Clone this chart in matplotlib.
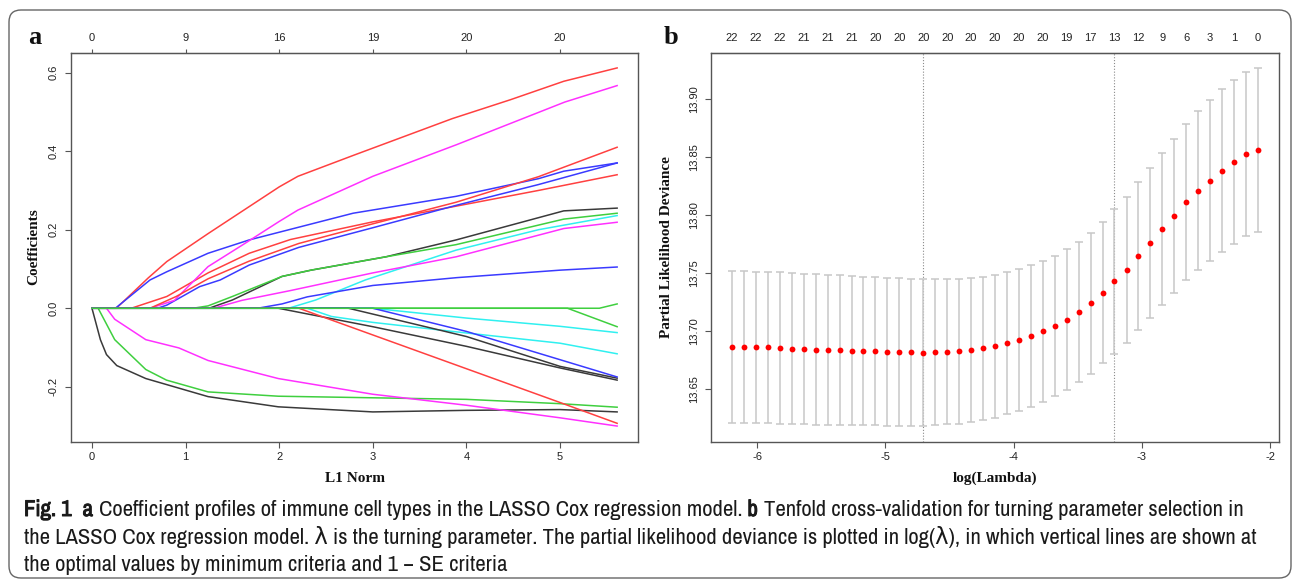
import numpy as np
import matplotlib
matplotlib.use("Agg")
import matplotlib.pyplot as plt
import matplotlib.patheffects as pe
from matplotlib.patches import FancyBboxPatch
from matplotlib import font_manager

# ---------------- data: panel a (coefficient paths vs L1 norm) ----------------
l1_ticks = [0, 1, 2, 3, 4, 5]
df_labels = ["0", "9", "16", "19", "20", "20"]

K4_x = [0, 0.09, 0.155, 0.265, 0.575, 1.24, 1.99, 3.0, 4.0, 5.0, 5.61]
K4_y = [0, -0.080, -0.118, -0.146, -0.179, -0.225, -0.251, -0.264, -0.260, -0.258, -0.264]
R1_x = [0, 0.26, 0.6, 0.8, 1.24, 2.0, 2.2, 2.8, 3.85, 4.47, 5.04, 5.61]
R1_y = [0, 0, 0.077, 0.119, 0.19, 0.309, 0.336, 0.39, 0.483, 0.531, 0.578, 0.612]
G4_x = [0, 0.066, 0.243, 0.575, 0.796, 1.24, 1.99, 4.0, 5.0, 5.61]
G4_y = [0, 0, -0.080, -0.156, -0.183, -0.213, -0.224, -0.232, -0.243, -0.252]
B1_x = [0, 0.25, 0.62, 0.8, 1.24, 1.68, 2.79, 3.89, 4.77, 5.04, 5.61]
B1_y = [0, 0, 0.072, 0.093, 0.14, 0.174, 0.242, 0.285, 0.330, 0.349, 0.370]
C1_x = [0, 2.1, 2.39, 2.92, 3.89, 4.77, 5.61]
C1_y = [0, 0, 0.021, 0.072, 0.148, 0.2, 0.236]
M3_x = [0, 0.155, 0.243, 0.575, 0.928, 1.24, 1.99, 3.0, 4.0, 5.0, 5.61]
M3_y = [0, 0, -0.028, -0.080, -0.101, -0.133, -0.179, -0.219, -0.247, -0.279, -0.300]
K1_x = [0, 1.25, 1.5, 2.03, 2.34, 3.14, 3.89, 5.04, 5.61]
K1_y = [0, 0, 0.021, 0.081, 0.097, 0.131, 0.174, 0.248, 0.255]
R2_x = [0, 0.42, 0.8, 1.24, 1.68, 2.12, 3.0, 3.89, 4.77, 5.61]
R2_y = [0, 0, 0.03, 0.09, 0.14, 0.175, 0.22, 0.26, 0.30, 0.340]
G1_x = [0, 1.08, 1.24, 1.5, 2.03, 2.34, 3.14, 3.89, 5.04, 5.61]
G1_y = [0, 0, 0.006, 0.03, 0.081, 0.097, 0.131, 0.162, 0.227, 0.242]
B2_x = [0, 0.7, 0.8, 1.15, 1.37, 1.68, 2.21, 3.0, 3.89, 4.77, 5.61]
B2_y = [0, 0, 0.008, 0.055, 0.072, 0.11, 0.155, 0.205, 0.262, 0.315, 0.370]
C2_x = [0, 3.0, 4.0, 5.0, 5.61]
C2_y = [0, 0, -0.025, -0.046, -0.062]
M1_x = [0, 0.62, 0.88, 1.24, 1.64, 2.0, 2.2, 3.0, 3.9, 5.05, 5.61]
M1_y = [0, 0, 0.02, 0.106, 0.166, 0.221, 0.25, 0.336, 0.417, 0.525, 0.567]
K2_x = [0, 1.99, 3.0, 4.0, 5.0, 5.61]
K2_y = [0, 0, -0.047, -0.097, -0.152, -0.183]
R3_x = [0, 0.62, 0.9, 1.24, 1.68, 2.21, 3.0, 3.89, 4.77, 5.61]
R3_y = [0, 0, 0.03, 0.075, 0.12, 0.165, 0.215, 0.27, 0.335, 0.41]
G3_x = [0, 5.08, 5.61]
G3_y = [0, 0, -0.047]
B3_x = [0, 1.77, 2.03, 2.3, 3.0, 3.9, 5.0, 5.61]
B3_y = [0, 0, 0.011, 0.029, 0.058, 0.078, 0.097, 0.105]
C3_x = [0, 2.3, 2.56, 3.0, 4.0, 5.0, 5.61]
C3_y = [0, 0, -0.021, -0.036, -0.063, -0.089, -0.116]
M2_x = [0, 1.3, 1.6, 2.12, 3.0, 3.89, 5.04, 5.61]
M2_y = [0, 0, 0.02, 0.045, 0.09, 0.131, 0.203, 0.219]
K3_x = [0, 2.74, 4.0, 5.0, 5.61]
K3_y = [0, 0, -0.072, -0.148, -0.178]
R4_x = [0, 2.21, 3.0, 4.0, 5.0, 5.61]
R4_y = [0, 0, -0.068, -0.154, -0.240, -0.293]
B4_x = [0, 3.0, 4.0, 5.0, 5.61]
B4_y = [0, 0, -0.059, -0.131, -0.175]
G2_x = [0, 5.42, 5.61]
G2_y = [0, 0, 0.011]

# ---------------- data: panel b (cross-validation curve) ----------------
log_lambda = [-6.195, -6.102, -6.009, -5.915, -5.822, -5.729, -5.636, -5.543, -5.449,
              -5.356, -5.263, -5.170, -5.077, -4.983, -4.890, -4.797, -4.704, -4.611,
              -4.517, -4.424, -4.331, -4.238, -4.145, -4.051, -3.958, -3.865, -3.772,
              -3.679, -3.585, -3.492, -3.399, -3.306, -3.213, -3.119, -3.026, -2.933,
              -2.840, -2.747, -2.653, -2.560, -2.467, -2.374, -2.281, -2.187, -2.094]
cv_mean = [13.6862, 13.6862, 13.6856, 13.6856, 13.6851, 13.6845, 13.6842, 13.6836, 13.6833,
           13.6830, 13.6828, 13.6825, 13.6822, 13.6816, 13.6813, 13.6813, 13.6812, 13.6816,
           13.6819, 13.6822, 13.6833, 13.6847, 13.6868, 13.6894, 13.6922, 13.6954, 13.6994,
           13.7043, 13.7097, 13.7161, 13.7239, 13.7330, 13.7426, 13.7526, 13.7644, 13.7761,
           13.7879, 13.7991, 13.8109, 13.8209, 13.8296, 13.8382, 13.8457, 13.8528, 13.8560]
cv_se = [0.0658, 0.0655, 0.0655, 0.0650, 0.0652, 0.0652, 0.0649, 0.0652, 0.0650,
         0.0647, 0.0643, 0.0641, 0.0638, 0.0638, 0.0638, 0.0635, 0.0633, 0.0629,
         0.0626, 0.0626, 0.0621, 0.0621, 0.0617, 0.0615, 0.0612, 0.0612, 0.0609,
         0.0606, 0.0607, 0.0606, 0.0608, 0.0612, 0.0623, 0.0632, 0.0638, 0.0647,
         0.0658, 0.0667, 0.0675, 0.0688, 0.0695, 0.0702, 0.0707, 0.0707, 0.0710]
nz_labels = ["22", "22", "22", "21", "21", "21", "20", "20", "20", "20", "20", "20",
             "20", "20", "19", "17", "13", "12", "9", "6", "3", "1", "0"]
log_lambda_min = -4.704
log_lambda_1se = -3.213
dev_ticks = [13.65, 13.70, 13.75, 13.80, 13.85, 13.90]
loglam_ticks = [-6, -5, -4, -3, -2]

# ---------------- caption ----------------
cap_line1 = [("Fig. 1", "bold"), ("a", "bold"),
             ("Coefficient profiles of immune cell types in the LASSO Cox regression model.", "normal"),
             ("b", "bold"),
             ("Tenfold cross-validation for turning parameter selection in", "normal")]
cap_line2 = "the LASSO Cox regression model. \u03bb is the turning parameter. The partial likelihood deviance is plotted in log(\u03bb), in which vertical lines are shown at"
cap_line3 = "the optimal values by minimum criteria and 1 \u2212 SE criteria"

# ---------------- font selection ----------------
def find_condensed():
    prefs = []
    for f in font_manager.fontManager.ttflist:
        nm = f.name
        if 'Mono' in nm or 'Serif' in nm or 'CJK' in nm:
            continue
        st = str(f.stretch)
        if 'Narrow' in nm or 'Condensed' in nm:
            prefs.append((0, nm, 'normal'))
        elif st in ('condensed', 'semi-condensed'):
            prefs.append((1, nm, st))
    prefs.sort()
    return prefs[0] if prefs else None

cond = find_condensed()
if cond is not None:
    cond_family, cond_stretch = cond[1], cond[2]
else:
    cond_family, cond_stretch = 'Liberation Sans', 'normal'

def has_bold(family):
    for f in font_manager.fontManager.ttflist:
        if f.name == family:
            w = f.weight
            try:
                w = int(w)
            except (TypeError, ValueError):
                w = 700 if str(w).lower() in ('bold', 'heavy', 'black', 'extra bold', 'semibold', 'demibold') else 400
            if w >= 600:
                return True
    return False

cond_has_bold = has_bold(cond_family)
serif = 'Liberation Serif'

W, H = 1293, 580
fig = plt.figure(figsize=(W / 100, H / 100), dpi=100)
fig.patch.set_facecolor('white')

def rect(l, t, r, b):
    return [l / W, 1 - b / H, (r - l) / W, (b - t) / H]

def fx(x):
    return x / W

def fy(y):
    return 1 - y / H

SPINE = '#555555'
TICKFS = 8.0
tick_family = 'Liberation Sans'

def style_axes(ax):
    for s in ax.spines.values():
        s.set_color(SPINE)
        s.set_linewidth(1.0)
    ax.tick_params(axis='both', direction='out', length=4.3, width=0.8, color=SPINE,
                   labelsize=TICKFS, labelcolor='#222222')
    ax.tick_params(axis='x', pad=2.8)
    ax.tick_params(axis='y', pad=4.5)
    for lab in ax.get_yticklabels():
        lab.set_rotation(90)
        lab.set_va('center')
        lab.set_family(tick_family)
    for lab in ax.get_xticklabels():
        lab.set_family(tick_family)

# ---------------- panel a ----------------
axA = fig.add_axes(rect(71, 53, 638, 442))
paths = [
    (K4_x, K4_y, 'black'), (R1_x, R1_y, 'red'), (G4_x, G4_y, 'green'), (B1_x, B1_y, 'blue'),
    (C1_x, C1_y, 'cyan'), (M3_x, M3_y, 'magenta'), (K1_x, K1_y, 'black'), (R2_x, R2_y, 'red'),
    (G1_x, G1_y, 'green'), (B2_x, B2_y, 'blue'), (C2_x, C2_y, 'cyan'), (M1_x, M1_y, 'magenta'),
    (K2_x, K2_y, 'black'), (R3_x, R3_y, 'red'), (G3_x, G3_y, 'green'), (B3_x, B3_y, 'blue'),
    (C3_x, C3_y, 'cyan'), (M2_x, M2_y, 'magenta'), (K3_x, K3_y, 'black'), (R4_x, R4_y, 'red'),
    (B4_x, B4_y, 'blue'), (G2_x, G2_y, 'green'),
]
colmap = {'black': '#3a3a3a', 'red': '#ff4040', 'green': '#3fcf3f', 'blue': '#3a3aff',
          'cyan': '#30f0f0', 'magenta': '#ff30ff'}
for xs, ys, c in paths:
    axA.plot(xs, ys, color=colmap[c], lw=1.1, solid_joinstyle='round')
axA.set_xlim(-0.224, 5.833)
axA.set_ylim(-0.3406, 0.650)
axA.set_xticks(l1_ticks)
axA.set_xticklabels([str(v) for v in l1_ticks])
axA.set_yticks([-0.2, 0.0, 0.2, 0.4, 0.6])
axA.set_yticklabels(["-0.2", "0.0", "0.2", "0.4", "0.6"])
style_axes(axA)
secA = axA.secondary_xaxis('top')
secA.set_xticks(l1_ticks)
secA.set_xticklabels(df_labels)
secA.spines['top'].set_color(SPINE)
secA.tick_params(direction='out', length=3.0, width=0.8, color=SPINE, labelsize=TICKFS,
                 labelcolor='#222222', pad=4.5)
for lab in secA.get_xticklabels():
    lab.set_family(tick_family)

# ---------------- panel b ----------------
axB = fig.add_axes(rect(711, 53, 1279, 442))
axB.errorbar(log_lambda, cv_mean, yerr=cv_se, fmt='none', ecolor='#c8c8c8', elinewidth=1.1,
             capsize=3.0, capthick=1.1, zorder=2)
axB.plot(log_lambda, cv_mean, 'o', color='#ff0000', ms=4.2, mec='none', zorder=3)
axB.axvline(log_lambda_min, color='#8a8a8a', lw=0.8, ls=(0, (1, 1.6)), zorder=1)
axB.axvline(log_lambda_1se, color='#8a8a8a', lw=0.8, ls=(0, (1, 1.6)), zorder=1)
axB.set_xlim(-6.359, -1.930)
axB.set_ylim(13.604, 13.9397)
axB.set_xticks(loglam_ticks)
axB.set_xticklabels([str(v) for v in loglam_ticks])
axB.set_yticks(dev_ticks)
axB.set_yticklabels(["%.2f" % v for v in dev_ticks])
style_axes(axB)
secB = axB.secondary_xaxis('top')
secB.set_xticks(log_lambda[::2])
secB.set_xticklabels(nz_labels)
secB.tick_params(length=0, labelsize=TICKFS, labelcolor='#222222', pad=7.5)
for lab in secB.get_xticklabels():
    lab.set_family(tick_family)

# ---------------- axis titles, panel letters ----------------
tfont = dict(family=serif, fontweight='bold', color='#111111', fontsize=11)
fig.text(fx(355), fy(478), "L1 Norm", ha='center', va='center', **tfont)
fig.text(fx(995), fy(478), "log(Lambda)", ha='center', va='center', **tfont)
fig.text(fx(34), fy(247), "Coefficients", ha='center', va='center', rotation=90, **tfont)
fig.text(fx(667), fy(247), "Partial Likelihood Deviance", ha='center', va='center', rotation=90, **tfont)
fig.text(fx(35), fy(38), "a", ha='center', va='center', family=serif, fontweight='bold', fontsize=19, color='#111111')
fig.text(fx(671), fy(37), "b", ha='center', va='center', family=serif, fontweight='bold', fontsize=19, color='#111111')

# ---------------- caption ----------------
renderer = fig.canvas.get_renderer()
cap_family = [cond_family, 'DejaVu Sans']
CAPCOL = '#1a1a1a'

def measure(txt, size, weight):
    t = fig.text(0, 0, txt, fontsize=size, fontweight=weight, family=cap_family, fontstretch=cond_stretch)
    w = t.get_window_extent(renderer).width
    t.remove()
    return w

def draw_runs(runs, x0, ybase, size, draw=True):
    sp = measure("a a", size, 'normal') - measure("aa", size, 'normal')
    x = x0
    for i, (txt, wt) in enumerate(runs):
        if draw:
            t = fig.text(fx(x), fy(ybase), txt, fontsize=size, fontweight=wt, family=cap_family,
                         fontstretch=cond_stretch, va='baseline', ha='left', color=CAPCOL)
            if wt == 'bold' and not cond_has_bold:
                t.set_path_effects([pe.withStroke(linewidth=0.7, foreground=CAPCOL)])
        x += measure(txt, size, wt)
        if wt == 'bold' and not cond_has_bold:
            x += 0.6
        if i < len(runs) - 1:
            x += sp * (2 if i == 0 else 1)
    return x - x0

base = 12.0
wtest = draw_runs(cap_line1, 24, 516, base, draw=False)
cap_size = base * 1218.0 / wtest
draw_runs(cap_line1, 24, 516, cap_size)
fig.text(fx(24), fy(544), cap_line2, fontsize=cap_size, family=cap_family, fontstretch=cond_stretch,
         va='baseline', ha='left', color=CAPCOL)
fig.text(fx(24), fy(571), cap_line3, fontsize=cap_size, family=cap_family, fontstretch=cond_stretch,
         va='baseline', ha='left', color=CAPCOL)

# ---------------- outer rounded border ----------------
border = FancyBboxPatch((9 / 100, 2 / 100), (1291 - 9) / 100, (578 - 10) / 100,
                        boxstyle="round,pad=0,rounding_size=0.12",
                        transform=fig.dpi_scale_trans, fill=False, ec='#666666', lw=1.0)
fig.patches.append(border)

fig.savefig("out.png", dpi=100)
